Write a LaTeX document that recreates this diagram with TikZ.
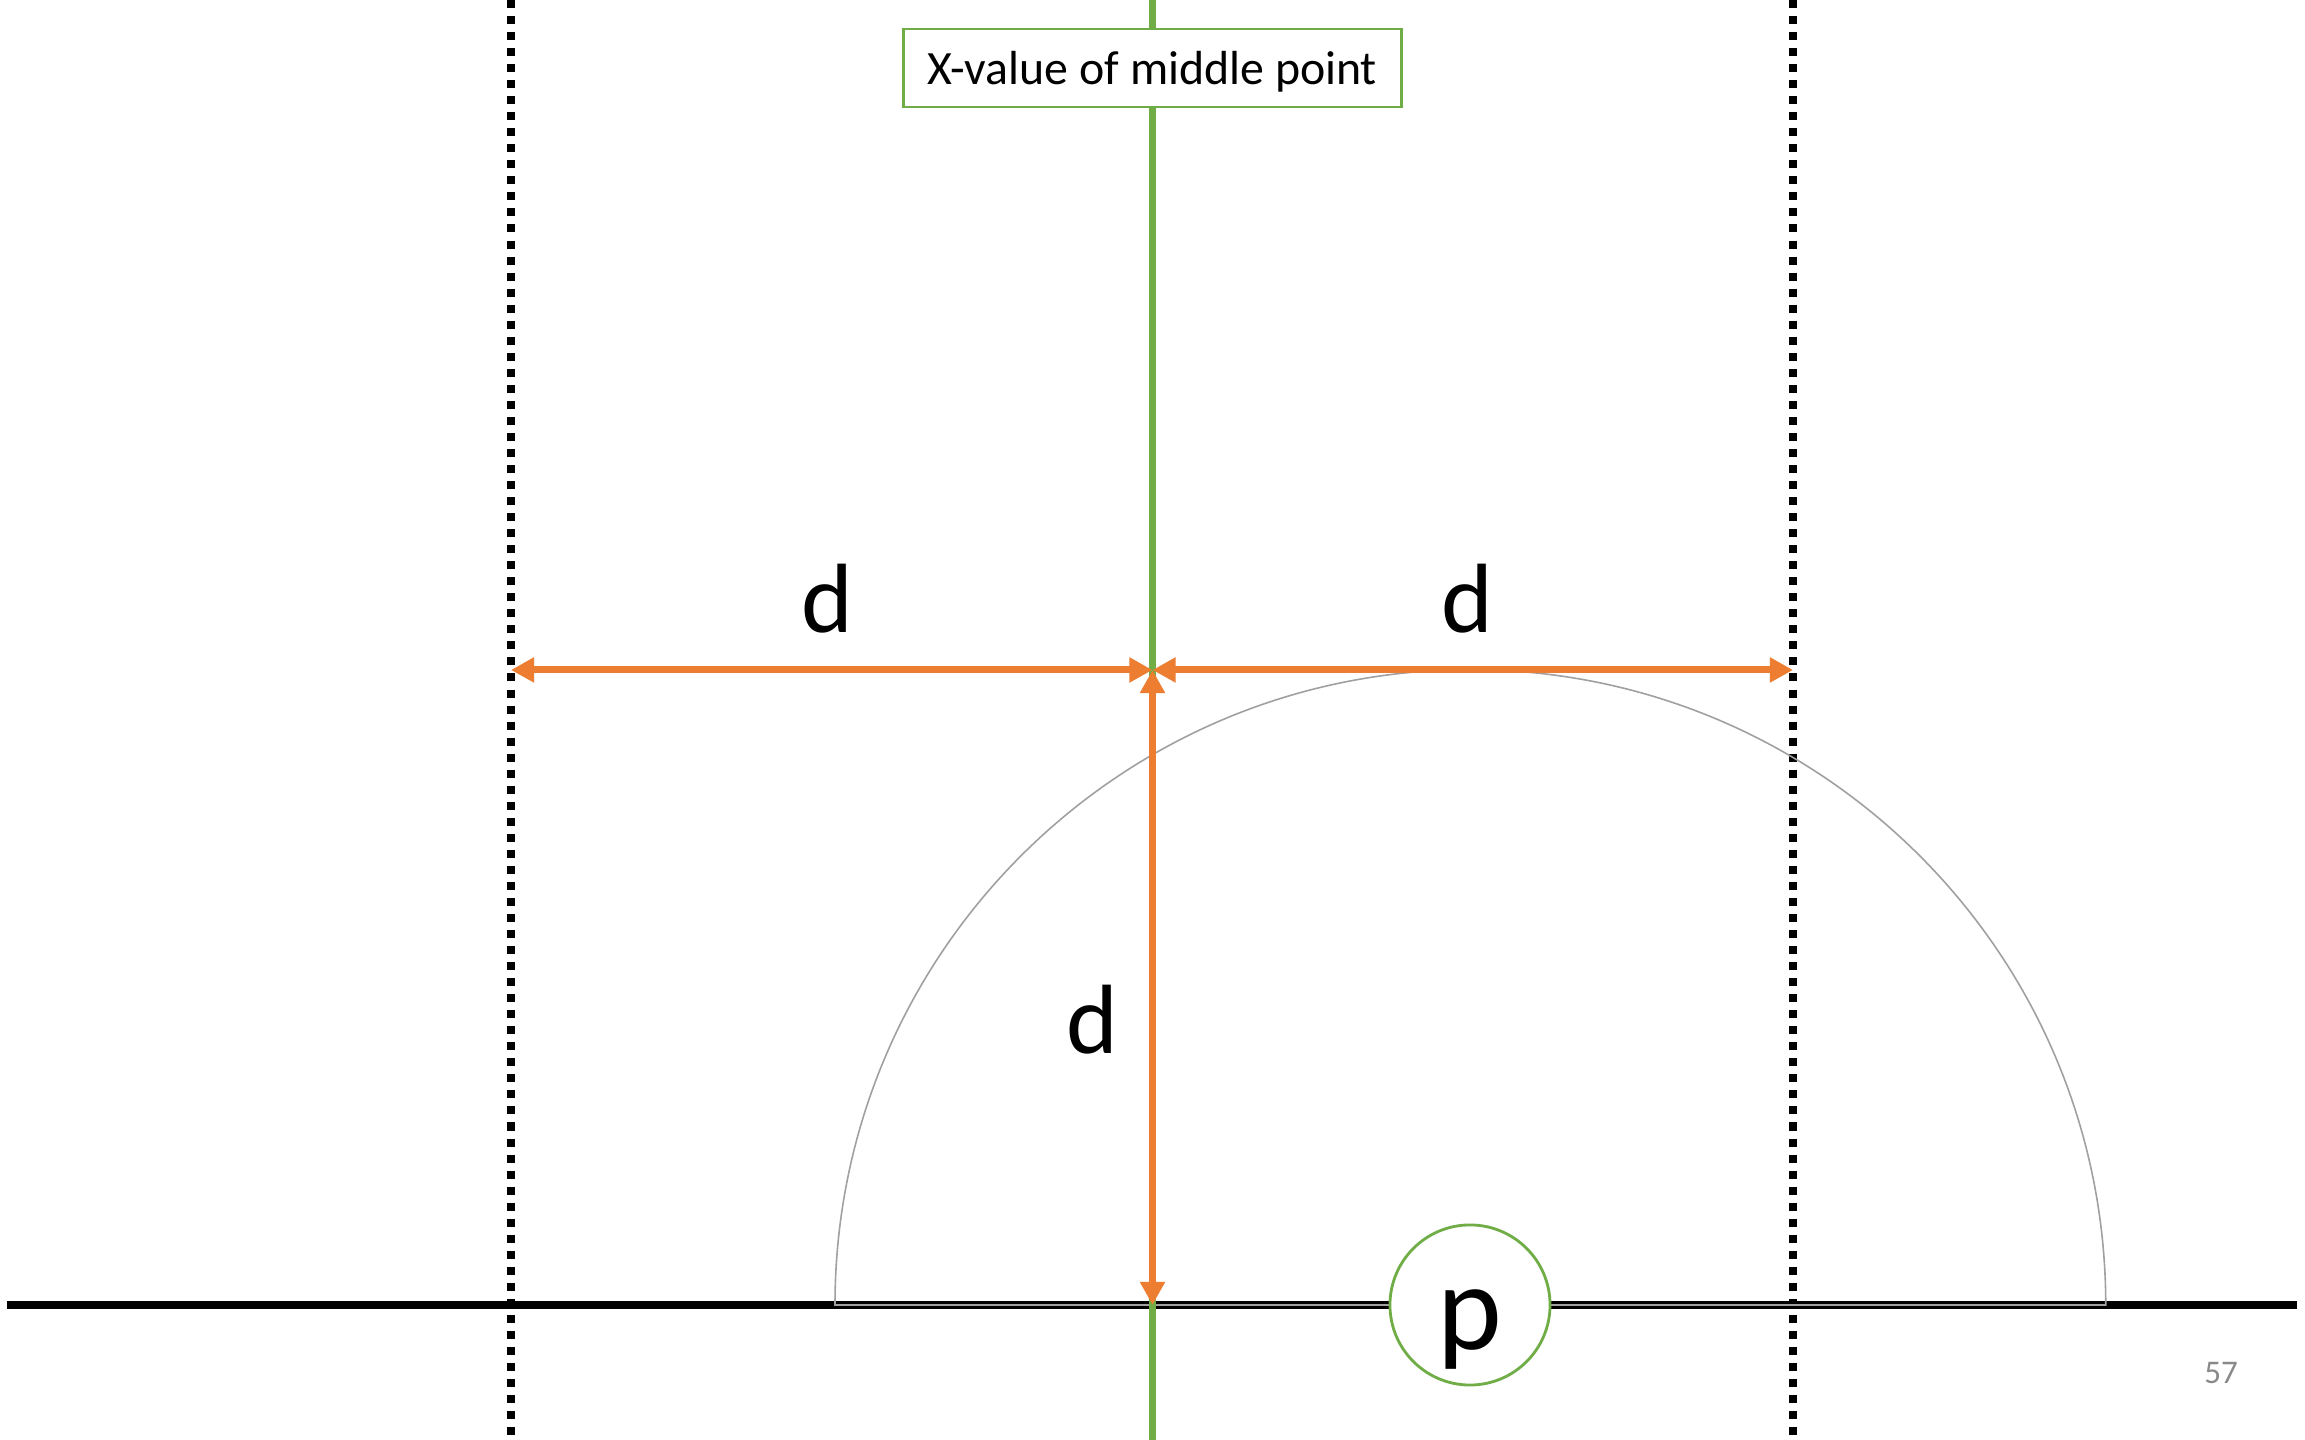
\documentclass[tikz,border=0pt]{standalone}
\usepackage{fontspec}
\setmainfont{Carlito}
\usetikzlibrary{arrows.meta}
\definecolor{orng}{HTML}{ED7D31}
\definecolor{grn}{HTML}{70AD47}
\definecolor{arcgray}{HTML}{A0A0A0}
\definecolor{numgray}{HTML}{898989}
\begin{document}
\begin{tikzpicture}[x=0.01cm,y=0.01cm,
  dotline/.style={line width=2.28pt,dash pattern=on 2.28pt off 2.28pt},
  midline/.style={grn,line width=2pt},
  baseln/.style={black,line width=2pt},
  dimarrow/.style={orng,line width=2pt,{Triangle[length=6.6pt,width=6.8pt]}-{Triangle[length=6.6pt,width=6.8pt]}},
  dlabel/.style={font=\fontsize{28}{34}\selectfont,anchor=base,inner sep=0pt},
  topbox/.style={draw=grn,line width=0.8pt,fill=white,minimum width=4.97cm,minimum height=0.78cm,inner sep=0pt,font=\fontsize{13.6}{16}\selectfont},
  pcircle/.style={circle,draw=grn,line width=0.8pt,fill=white,minimum size=1.6cm,inner sep=0pt}
]
\fill[white] (0,0) rectangle (2305,1440);
\useasboundingbox (0,0) rectangle (2305,1440);
% coordinates
\coordinate (LT) at (511,1440);
\coordinate (LB) at (511,0);
\coordinate (RT) at (1793,1440);
\coordinate (RB) at (1793,0);
\coordinate (GT) at (1152.5,1440);
\coordinate (GB) at (1152.5,0);
\coordinate (HL) at (7,135);
\coordinate (HR) at (2297,135);
\coordinate (AL) at (511,770);
\coordinate (AM) at (1152.5,770);
\coordinate (AR) at (1793,770);
\coordinate (AB) at (1152.5,135);
% dotted lines
\draw[dotline] (LT) -- (LB);
\draw[dotline] (RT) -- (RB);
% base line
\draw[baseln] (HL) -- (HR);
% semicircle
\draw[arcgray,line width=0.45pt] (835,135) arc[start angle=180,end angle=0,radius=6.35cm] -- cycle;
% green middle line
\draw[midline] (GT) -- (GB);
% orange dimension arrows
\draw[dimarrow] (AL) -- (AM);
\draw[dimarrow] (AM) -- (AR);
\draw[dimarrow] (AM) -- (AB);
% labels
\node[dlabel] (d1) at (827,807) {d};
\node[dlabel] (d2) at (1467,807) {d};
\node[dlabel] (d3) at (1092,386) {d};
\node[topbox] (top) at (1152.5,1372) {\raisebox{-4.8pt}[0pt][0pt]{X-value of middle point}};
\node[pcircle] (p) at (1470,135) {};
\node[font=\fontsize{35}{40}\selectfont,anchor=base,inner sep=0pt] (pl) at (1470,90) {p};
\node[font=\fontsize{9.4}{11}\selectfont,text=numgray,inner sep=0pt] (num) at (2221,67) {57};
\end{tikzpicture}
\end{document}
